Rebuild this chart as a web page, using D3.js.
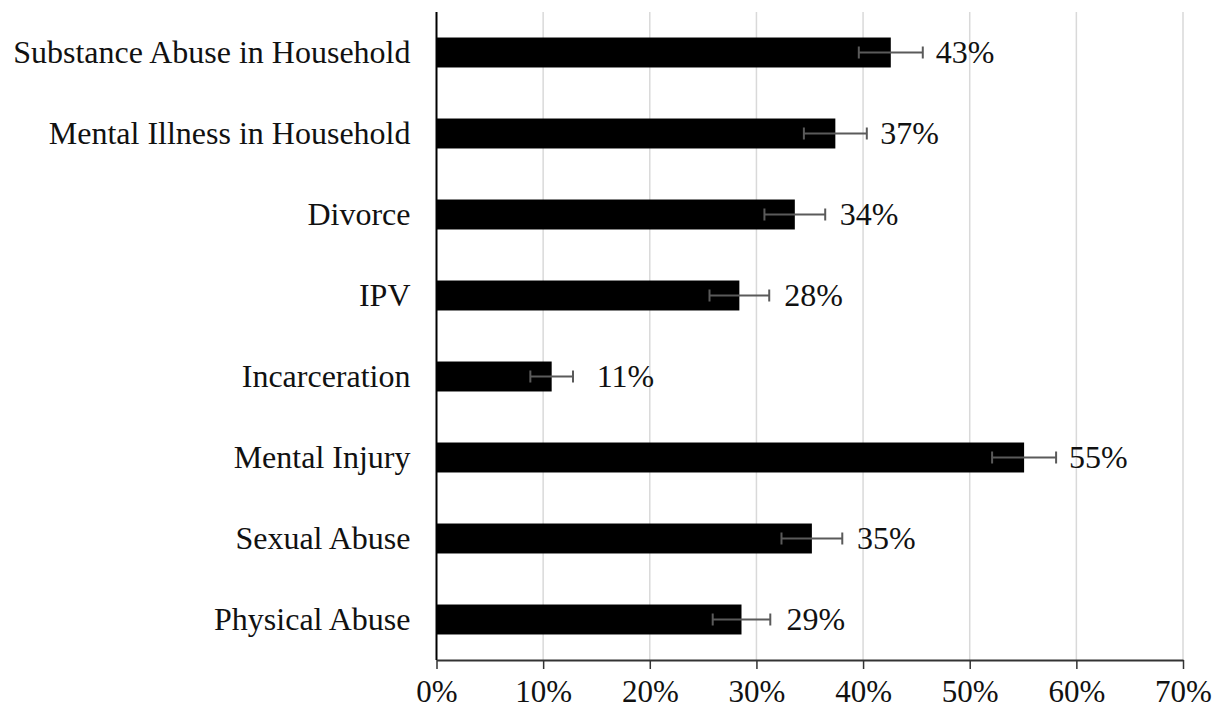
<!DOCTYPE html>
<html>
<head>
<meta charset="utf-8">
<script src="https://cdn.jsdelivr.net/npm/d3@7"></script>
<style>
  html, body { margin: 0; padding: 0; background: #fff; }
  svg { display: block; }
  text { font-family: "Liberation Serif", "Times New Roman", serif; fill: #111; }
</style>
</head>
<body>
<svg id="chart" width="1216" height="711"></svg>
<script>
// Prevalence of adverse childhood experiences, top to bottom
const categories = [
  "Substance Abuse in Household",
  "Mental Illness in Household",
  "Divorce",
  "IPV",
  "Incarceration",
  "Mental Injury",
  "Sexual Abuse",
  "Physical Abuse"
];
const values = [0.426, 0.374, 0.336, 0.284, 0.108, 0.551, 0.352, 0.286];
const errors = [0.030, 0.0295, 0.0285, 0.028, 0.020, 0.030, 0.0285, 0.027];
const xTicks = [0, 0.1, 0.2, 0.3, 0.4, 0.5, 0.6, 0.7];

const svg = d3.select("#chart");
const plotLeft = 436.5, plotRight = 1183, plotTop = 12, plotBottom = 660;

const x = d3.scaleLinear().domain([0, 0.7]).range([plotLeft, plotRight]);
const y = d3.scaleBand().domain(categories).range([plotTop, plotBottom]).paddingInner(0.63).paddingOuter(0.315);
const pct = d3.format(".0%");

// vertical gridlines
svg.append("g")
  .selectAll("line")
  .data(xTicks.slice(1))
  .join("line")
  .attr("x1", d => x(d)).attr("x2", d => x(d))
  .attr("y1", plotTop).attr("y2", plotBottom)
  .attr("stroke", "#d9d9d9").attr("stroke-width", 1.5);

// bars
svg.append("g")
  .selectAll("rect")
  .data(categories)
  .join("rect")
  .attr("x", x(0))
  .attr("y", d => y(d))
  .attr("width", (d, i) => x(values[i]) - x(0))
  .attr("height", y.bandwidth())
  .attr("fill", "#000");

// error bars
const eb = svg.append("g").attr("stroke", "#5a5a5a").attr("stroke-width", 2);
categories.forEach((c, i) => {
  const cy = y(c) + y.bandwidth() / 2;
  const lo = x(values[i] - errors[i]), hi = x(values[i] + errors[i]);
  eb.append("line").attr("x1", lo).attr("x2", hi).attr("y1", cy).attr("y2", cy);
  eb.append("line").attr("x1", lo).attr("x2", lo).attr("y1", cy - 6).attr("y2", cy + 6);
  eb.append("line").attr("x1", hi).attr("x2", hi).attr("y1", cy - 6).attr("y2", cy + 6);
});

// value labels
svg.append("g")
  .selectAll("text")
  .data(categories)
  .join("text")
  .attr("x", (d, i) => x(values[i]) + 45)
  .attr("y", d => y(d) + y.bandwidth() / 2)
  .attr("dy", "0.34em")
  .attr("font-size", 32)
  .text((d, i) => pct(values[i]));

// category axis
const yAxis = svg.append("g")
  .attr("transform", `translate(${plotLeft},0)`)
  .call(d3.axisLeft(y).tickSize(0).tickPadding(26));
yAxis.select(".domain").remove();
yAxis.selectAll("text").attr("font-size", 32).attr("dy", "0.34em")
  .style("font-family", '"Liberation Serif", "Times New Roman", serif').attr("fill", "#111");
svg.append("line")
  .attr("x1", plotLeft).attr("x2", plotLeft).attr("y1", plotTop).attr("y2", plotBottom)
  .attr("stroke", "#000").attr("stroke-width", 2);

// value axis
const xAxis = svg.append("g")
  .attr("transform", `translate(0,${plotBottom})`)
  .call(d3.axisBottom(x).tickValues(xTicks).tickFormat(pct).tickSizeInner(9).tickSizeOuter(0).tickPadding(11));
xAxis.select(".domain").attr("stroke", "#333").attr("stroke-width", 2);
xAxis.selectAll(".tick line").attr("stroke", "#333").attr("stroke-width", 1.5);
xAxis.selectAll("text").attr("font-size", 31)
  .style("font-family", '"Liberation Serif", "Times New Roman", serif').attr("fill", "#111");
</script>
</body>
</html>
